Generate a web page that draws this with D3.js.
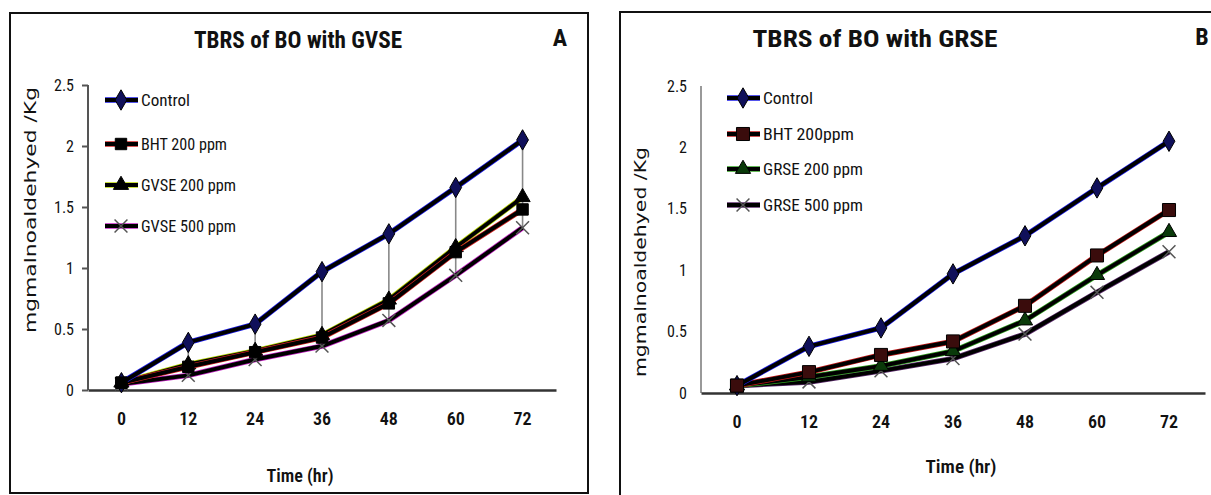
<!DOCTYPE html>
<html>
<head>
<meta charset="utf-8">
<script src="https://cdn.jsdelivr.net/npm/d3@7"></script>
<style>
  body { margin: 0; background: #fff; }
  svg { display: block; }
  text { font-family: "Liberation Sans Narrow", "Roboto Condensed", "DejaVu Sans Condensed", "Liberation Sans", sans-serif; fill: #111; }
</style>
</head>
<body>
<svg id="chart" width="1211" height="495"></svg>
<script>
// hours on the x axis (category axis)
var times = ["0", "12", "24", "36", "48", "60", "72"];
var yTicks = [0, 0.5, 1, 1.5, 2, 2.5];

// panel A : GVSE
var controlA = [0.06, 0.39, 0.54, 0.97, 1.28, 1.66, 2.05];
var bhtA     = [0.06, 0.19, 0.31, 0.43, 0.71, 1.13, 1.48];
var gvse200  = [0.06, 0.21, 0.32, 0.45, 0.74, 1.17, 1.58];
var gvse500  = [0.05, 0.12, 0.25, 0.36, 0.57, 0.94, 1.33];
var namesA   = ["Control", "BHT 200 ppm", "GVSE 200 ppm", "GVSE 500 ppm"];

// panel B : GRSE
var controlB = [0.06, 0.38, 0.53, 0.97, 1.28, 1.67, 2.05];
var bhtB     = [0.06, 0.17, 0.31, 0.42, 0.71, 1.12, 1.49];
var grse200  = [0.06, 0.13, 0.22, 0.34, 0.59, 0.96, 1.31];
var grse500  = [0.06, 0.09, 0.18, 0.28, 0.48, 0.82, 1.15];
var namesB   = ["Control", "BHT 200ppm", "GRSE 200 ppm", "GRSE 500 ppm"];

var svg = d3.select("#chart");

var panels = [
  {
    frame: [10, 13, 578, 480], title: "TBRS of BO with GVSE", titleX: 298, titleW: 208, tag: "A", tagX: 560,
    xr: [88, 556], yr: [390, 85], yTicksOn: true, axisCol: "#555",
    series: [controlA, bhtA, gvse200, gvse500], names: namesA,
    edge: ["#1a1ae6", "#d02020", "#b8d400", "#c020c0"],
    markFill: ["#10105a", "#000", "#000", "#444"],
    legX: 105, legY: [100, 144, 185, 226], legW: [49, 86, 95, 95],
    xlabX: 300, xlabY: 482, xlabW: 67, ylabX: 31, ylabY: 210, ylabW: 246, ylab: "mgmalnoaldehyed  /Kg",
    hiLo: true, sq: 130
  },
  {
    frame: [620, 12, 640, 500], title: "TBRS of BO with GRSE", titleX: 875, titleW: 245, tag: "B", tagX: 1202,
    xr: [701, 1205], yr: [393, 86], yTicksOn: false, axisCol: "#999",
    series: [controlB, bhtB, grse200, grse500], names: namesB,
    edge: ["#1a1ae6", "#c01818", "#30a020", "#5a2a6a"],
    markFill: ["#10105a", "#3a0c0c", "#0a3a0a", "#444"],
    legX: 727, legY: [98, 134, 169, 205], legW: [50, 91, 100, 100],
    xlabX: 961, xlabY: 473, xlabW: 71, ylabX: 641, ylabY: 262, ylabW: 230, ylab: "mgmalnoaldehyed /Kg",
    hiLo: false, sq: 170
  }
];

var symbols = [d3.symbolDiamond, d3.symbolSquare, d3.symbolTriangle, d3.symbolX];
var symSize = [120, 130, 100, 110];

panels.forEach(function(p) {
  var g = svg.append("g");
  var x = d3.scaleBand().domain(times).range(p.xr);
  var y = d3.scaleLinear().domain([0, 2.5]).range(p.yr);
  var cx = function(i) { return x(times[i]) + x.bandwidth() / 2; };

  g.append("rect")
    .attr("x", p.frame[0]).attr("y", p.frame[1])
    .attr("width", p.frame[2]).attr("height", p.frame[3])
    .attr("fill", "none").attr("stroke", "#111").attr("stroke-width", 2);

  g.append("text").attr("x", p.titleX).attr("y", p.frame[1] + 35)
    .attr("text-anchor", "middle").attr("font-size", 24).attr("font-weight", "bold")
    .attr("textLength", p.titleW).attr("lengthAdjust", "spacingAndGlyphs")
    .text(p.title);
  g.append("text").attr("x", p.tagX).attr("y", p.frame[1] + 33)
    .attr("text-anchor", "middle").attr("font-size", 24).attr("font-weight", "bold")
    .text(p.tag);

  // y axis
  var yAxis = d3.axisLeft(y).tickValues(yTicks).tickFormat(d3.format("")).tickSize(p.yTicksOn ? 6 : 0).tickPadding(p.yTicksOn ? 8 : 14);
  var ya = g.append("g").attr("transform", "translate(" + p.xr[0] + ",0)").call(yAxis);
  ya.select(".domain").attr("stroke", p.axisCol).attr("stroke-width", 2).attr("d", "M0," + p.yr[1] + "V" + p.yr[0]);
  ya.selectAll(".tick line").attr("stroke", p.axisCol).attr("stroke-width", 2);
  ya.selectAll(".tick text").attr("font-size", 16).attr("fill", "#222").style("font-family", null);

  // x axis
  var xAxis = d3.axisBottom(x).tickSize(0).tickPadding(22);
  var xa = g.append("g").attr("transform", "translate(0," + p.yr[0] + ")").call(xAxis);
  xa.select(".domain").attr("stroke", "#333").attr("stroke-width", 2.5);
  xa.selectAll(".tick text").attr("font-size", 18).attr("font-weight", 600).attr("fill", "#111").style("font-family", null);

  g.append("text").attr("x", p.xlabX).attr("y", p.xlabY)
    .attr("text-anchor", "middle").attr("font-size", 19).attr("font-weight", 600)
    .attr("textLength", p.xlabW).attr("lengthAdjust", "spacingAndGlyphs")
    .text("Time (hr)");
  g.append("text")
    .attr("transform", "translate(" + (p.ylabX + 5) + "," + p.ylabY + ") rotate(-90)")
    .attr("text-anchor", "middle").attr("font-size", 15)
    .style("font-family", "'DejaVu Sans', Verdana, sans-serif")
    .attr("textLength", p.ylabW).attr("lengthAdjust", "spacingAndGlyphs")
    .attr("fill", "#333")
    .text(p.ylab);

  // high-low lines
  if (p.hiLo) {
    g.selectAll("line.hilo").data(times).enter().append("line")
      .attr("class", "hilo")
      .attr("x1", function(d, i) { return cx(i); })
      .attr("x2", function(d, i) { return cx(i); })
      .attr("y1", function(d, i) { return y(d3.max(p.series, function(s) { return s[i]; })); })
      .attr("y2", function(d, i) { return y(d3.min(p.series, function(s) { return s[i]; })); })
      .attr("stroke", "#888").attr("stroke-width", 1.6);
  }

  var line = d3.line().x(function(d, i) { return cx(i); }).y(function(d) { return y(d); });

  // draw the series back to front so Control ends on top
  for (var k = p.series.length - 1; k >= 0; k--) {
    var s = p.series[k];
    g.append("path").datum(s).attr("d", line).attr("fill", "none")
      .attr("stroke", p.edge[k]).attr("stroke-width", 5.5).attr("stroke-linejoin", "round");
    g.append("path").datum(s).attr("d", line).attr("fill", "none")
      .attr("stroke", "#000").attr("stroke-width", 4).attr("stroke-linejoin", "round");
    drawMarks(g, s.map(function(v, i) { return [cx(i), y(v)]; }), k, p);
  }
  // the big square sits on top at hour 0 in the original
  drawMarks(g, [[cx(0), y(p.series[1][0])]], 1, p);

  // legend
  p.names.forEach(function(n, k) {
    var ly = p.legY[k];
    g.append("line").attr("x1", p.legX).attr("x2", p.legX + 33).attr("y1", ly).attr("y2", ly)
      .attr("stroke", p.edge[k]).attr("stroke-width", 5.5);
    g.append("line").attr("x1", p.legX).attr("x2", p.legX + 33).attr("y1", ly).attr("y2", ly)
      .attr("stroke", "#000").attr("stroke-width", 4);
    drawMarks(g, [[p.legX + 16, ly]], k, p);
    g.append("text").attr("x", p.legX + 36).attr("y", ly + 6)
      .attr("font-size", 16)
      .attr("textLength", p.legW[k]).attr("lengthAdjust", "spacingAndGlyphs")
      .text(n);
  });
});

function drawMarks(g, pts, k, p) {
  var sym = d3.symbol().type(symbols[k]).size(k === 1 ? p.sq : symSize[k]);
  g.selectAll(null).data(pts).enter().append("path")
    .attr("transform", function(d) { return "translate(" + d[0] + "," + d[1] + ")"; })
    .attr("d", sym)
    .attr("fill", k === 3 ? "none" : p.markFill[k])
    .attr("stroke", k === 3 ? "#555" : "#000")
    .attr("stroke-width", k === 3 ? 1.5 : 1);
}
</script>
</body>
</html>
